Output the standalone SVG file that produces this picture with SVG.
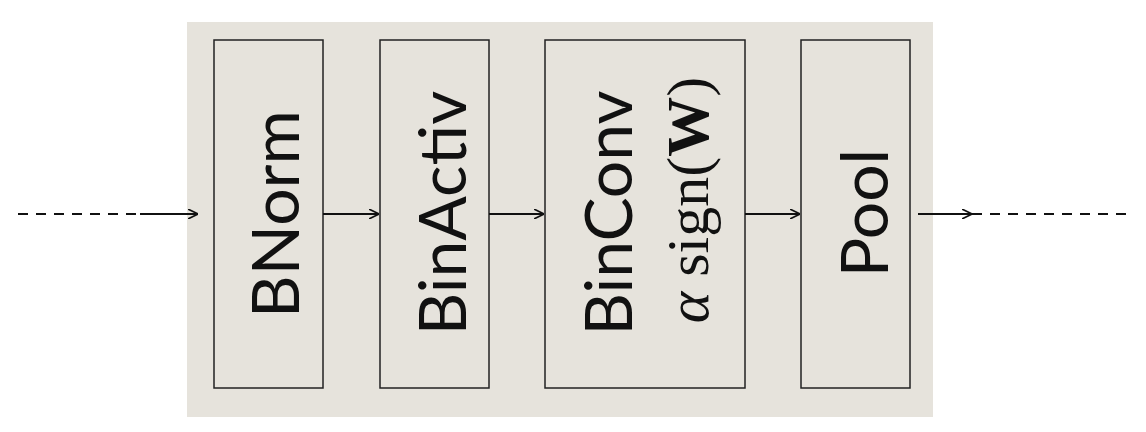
<svg xmlns="http://www.w3.org/2000/svg" width="1146" height="432" viewBox="0 0 1146 432">
<defs>
<style>
.box{fill:#e6e3dc;stroke:#222;stroke-width:1.5}
.lbl{font-family:Lato,"Open Sans",sans-serif;font-size:66px;fill:#111;text-anchor:middle;dominant-baseline:central}
.math{font-family:"Liberation Serif",serif;font-size:60px;fill:#111;text-anchor:middle;dominant-baseline:central}
.ln{stroke:#111;stroke-width:2;fill:none}
</style>
<marker id="ah" viewBox="0 0 10 10" refX="10" refY="5" markerWidth="10" markerHeight="10" markerUnits="userSpaceOnUse" orient="auto"><path d="M0,0 L10,5 L0,10" fill="none" stroke="#111" stroke-width="1.6"/></marker>
</defs>
<rect width="1146" height="432" fill="#fff"/>
<rect x="187" y="22" width="746" height="395" fill="#e6e3dc"/>
<g id="bnorm"><rect class="box" x="214" y="40" width="109" height="348"/><text class="lbl" transform="translate(273,214) rotate(-90)">BNorm</text></g>
<g id="binactiv"><rect class="box" x="380" y="40" width="109" height="348"/><text class="lbl" transform="translate(440,213) rotate(-90)">BinActiv</text></g>
<g id="binconv"><rect class="box" x="545" y="40" width="200" height="348"/><text class="lbl" transform="translate(606,213) rotate(-90)">BinConv</text><text class="math" transform="translate(688,200) rotate(-90)"><tspan font-style="italic">α</tspan>  sign(<tspan font-weight="bold">W</tspan>)</text></g>
<g id="pool"><rect class="box" x="801" y="40" width="109" height="348"/><text class="lbl" transform="translate(862,213) rotate(-90)">Pool</text></g>
<g id="connectors">
<path class="ln" d="M18,214 H140" stroke-dasharray="10,8"/>
<path class="ln" d="M140,214 H198" marker-end="url(#ah)"/>
<path class="ln" d="M323,214 H379" marker-end="url(#ah)"/>
<path class="ln" d="M489,214 H544" marker-end="url(#ah)"/>
<path class="ln" d="M745,214 H800" marker-end="url(#ah)"/>
<path class="ln" d="M918,214 H972" marker-end="url(#ah)"/>
<path class="ln" d="M972,214 H1130" stroke-dasharray="10,8"/>
</g>
</svg>
